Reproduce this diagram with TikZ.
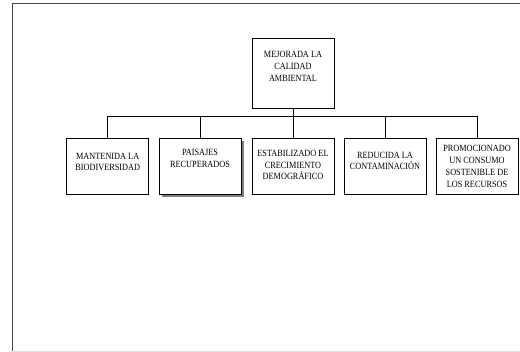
\documentclass[tikz,border=0pt]{standalone}
\usepackage{fontspec}
\setmainfont{Liberation Serif}[FakeStretch=0.87]
\usepackage{tikz}
\usetikzlibrary{positioning,shadows}
\definecolor{framegray}{RGB}{70,70,70}
\definecolor{shadegray}{RGB}{128,128,128}

\tikzset{
  goalbox/.style={draw,line width=0.8pt,minimum width=82pt,inner sep=0pt},
  goaltext/.style={align=center,inner sep=0pt,font=\fontsize{9.5}{11.7}\selectfont},
  bus/.style={line width=0.8pt}
}

\begin{document}
\begin{tikzpicture}[x=1pt,y=-1pt]
    \useasboundingbox (0,0) rectangle (520,352);
    % Page frame
    \draw[framegray,line width=1pt] (520,3.5) -- (12,3.5) -- (12,352);
    \draw[black!12,line width=0.8pt] (12,351) -- (520,351);

    % Main goal
    \node[goalbox,minimum height=69.5pt] (top) at (293,73.25) {};
    \node[goaltext] (ttop) at (293,66.5) {MEJORADA LA\\CALIDAD\\AMBIENTAL};

    % Sub goals
    \node[goalbox,minimum height=56pt] (g1) at (107.7,166.5) {};
    \node[goalbox,minimum height=56pt,fill=white,
          drop shadow={shadow xshift=2.5pt,shadow yshift=-2.5pt,fill=shadegray,opacity=1}]
          (g2) at (200,166.5) {};
    \node[goalbox,minimum height=56pt] (g3) at (293,166.5) {};
    \node[goalbox,minimum height=56pt] (g4) at (385,166.5) {};
    \node[goalbox,minimum height=56pt] (g5) at (477,166.5) {};

    \node[goaltext] (t1) at (107.7,162) {MANTENIDA LA\\BIODIVERSIDAD};
    \node[goaltext] (t2) at (200,158.5) {PAISAJES\\RECUPERADOS};
    \node[goaltext] (t3) at (293,165) {ESTABILIZADO EL\\CRECIMIENTO\\DEMOGRÁFICO};
    \node[goaltext] (t4) at (385,161) {REDUCIDA LA\\CONTAMINACIÓN};
    \node[goaltext] (t5) at (477,166.4) {PROMOCIONADO\\UN CONSUMO\\SOSTENIBLE DE\\LOS RECURSOS};

    % Connectors
    \coordinate (busy) at (0,116);
    \draw[bus] (top.south) -- (top.south |- busy);
    \draw[bus] (g1.north |- busy) -- (g5.north |- busy);
    \foreach \g in {g1,g2,g3,g4,g5}
        \draw[bus] (\g.north |- busy) -- (\g.north);
\end{tikzpicture}
\end{document}
